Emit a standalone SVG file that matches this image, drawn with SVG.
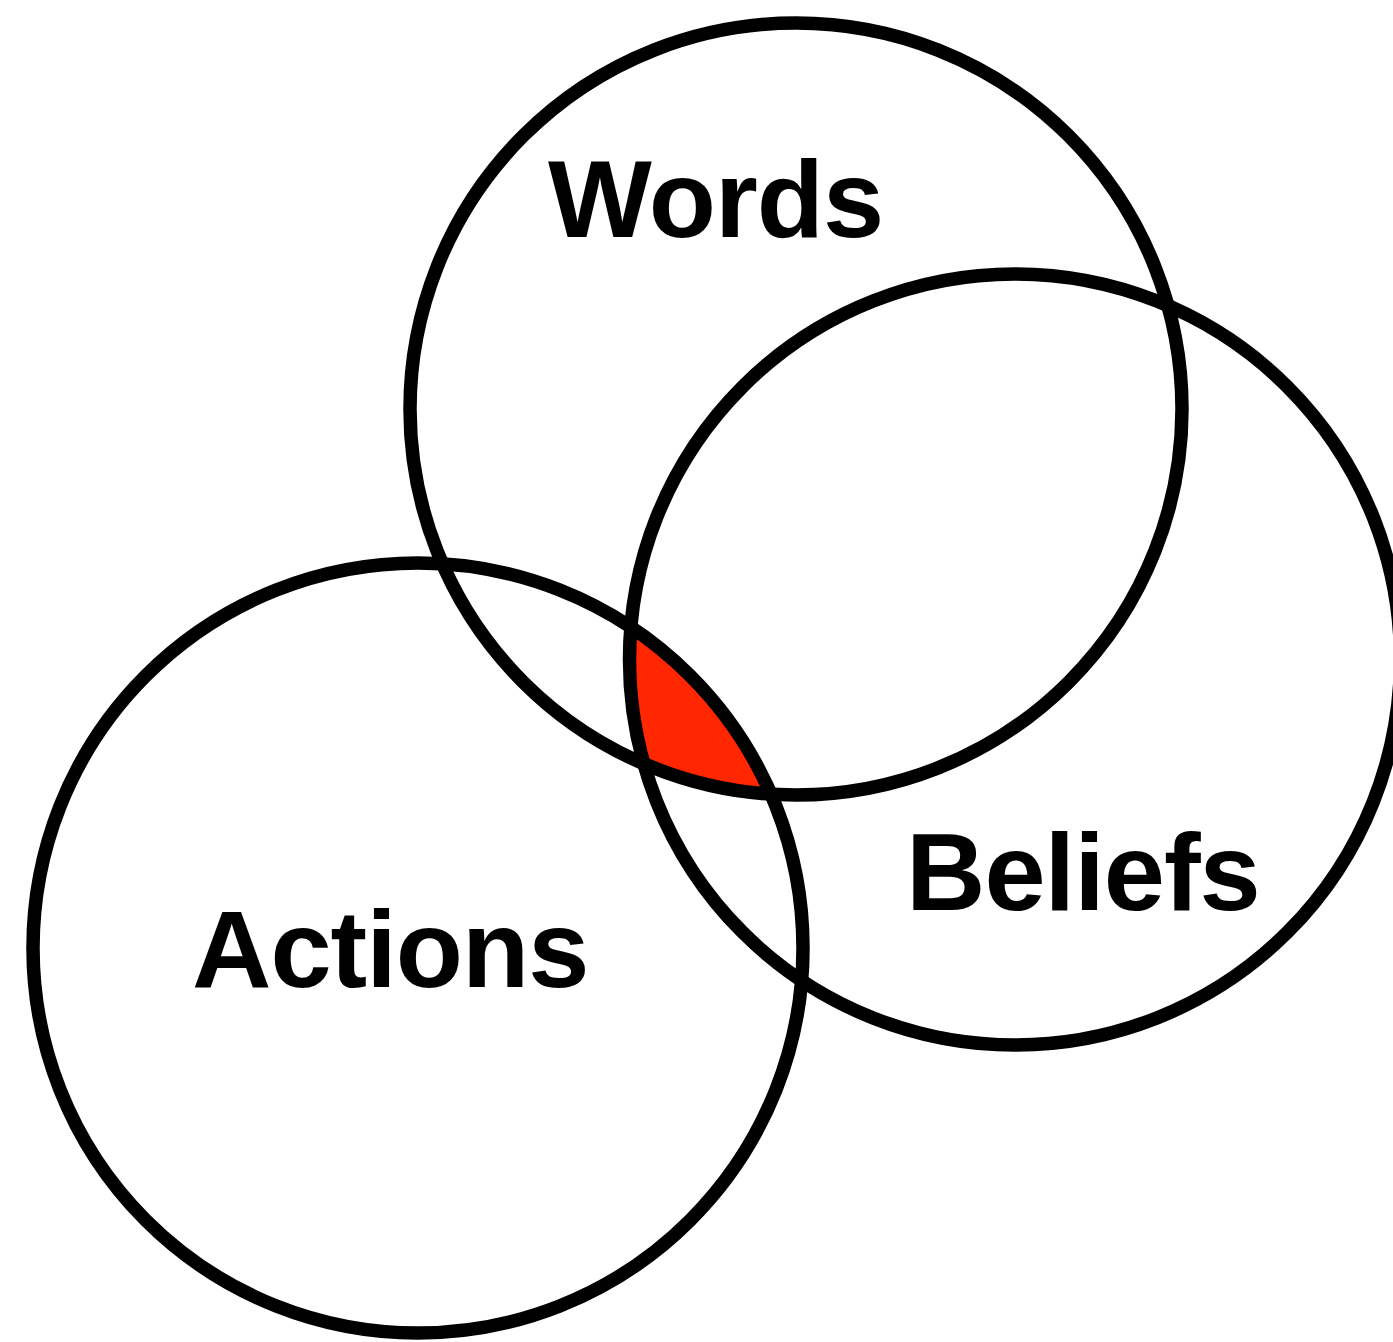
<svg xmlns="http://www.w3.org/2000/svg" width="1393" height="1342" viewBox="0 0 1393 1342">
<style>
.ring{fill:none;stroke:#000;stroke-width:13.5}
.lbl{font-family:"Liberation Sans",Arial,Helvetica,sans-serif;font-weight:bold;font-size:110px;letter-spacing:-1px;fill:#000}
</style>
<defs>
<clipPath id="clipA"><circle cx="418" cy="948" r="385"/></clipPath>
<clipPath id="clipB"><circle cx="1015" cy="659.5" r="385.5"/></clipPath>
</defs>
<rect width="1393" height="1342" fill="#fff"/>
<g id="overlap">
<g clip-path="url(#clipA)"><g clip-path="url(#clipB)"><circle cx="796" cy="409" r="386" fill="#ff2600"/></g></g>
</g>
<g id="words"><circle class="ring" cx="796" cy="409" r="386"/><text class="lbl" x="548" y="237">Words</text></g>
<g id="beliefs"><circle class="ring" cx="1015" cy="659.5" r="385.5"/><text class="lbl" x="906" y="910">Beliefs</text></g>
<g id="actions"><circle class="ring" cx="418" cy="948" r="385"/><text class="lbl" x="192" y="987">Actions</text></g>
</svg>
